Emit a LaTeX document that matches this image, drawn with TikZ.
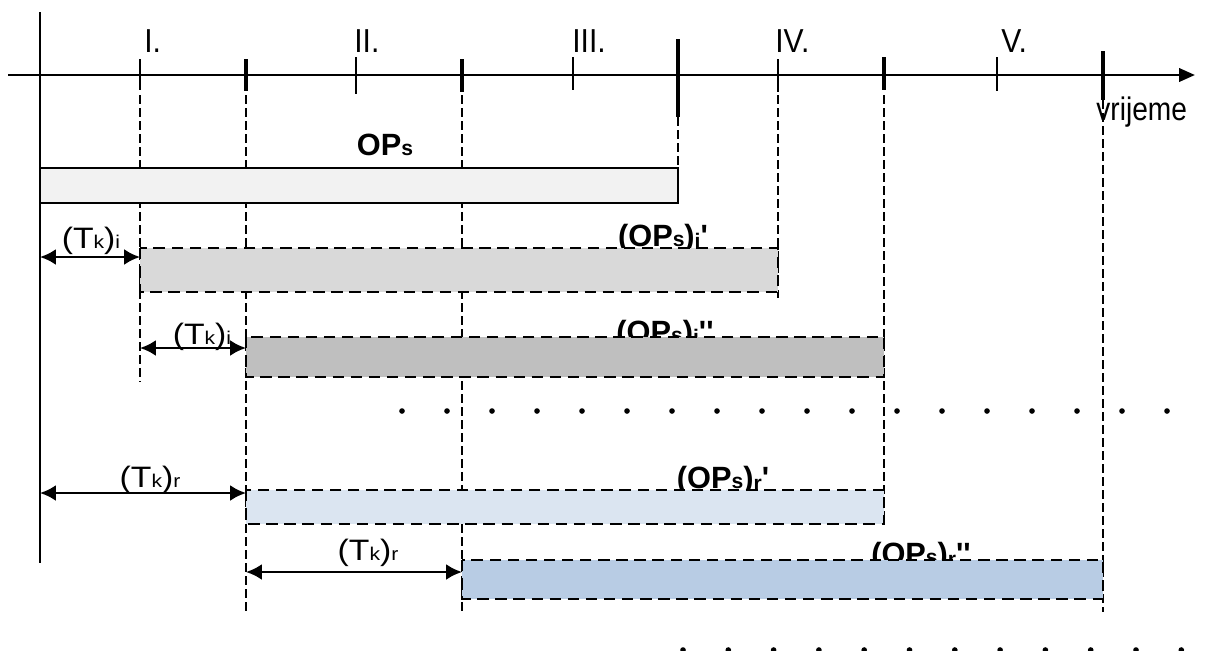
\documentclass[tikz,border=0pt]{standalone}
\usepackage{fontspec}
\setmainfont{Liberation Sans}
\newfontfamily\arial{Liberation Sans}
\usetikzlibrary{arrows.meta}
\definecolor{barS}{HTML}{F2F2F2}
\definecolor{barIa}{HTML}{D9D9D9}
\definecolor{barIb}{HTML}{BFBFBF}
\definecolor{barRa}{HTML}{DBE5F1}
\definecolor{barRb}{HTML}{B8CCE4}
\tikzset{
    timeaxis/.style = {line width=1.6pt,-{Triangle[length=9pt,width=7.5pt]}},
    tickthin/.style = {line width=0.8pt},
    tickmid/.style = {line width=1.8pt},
    tickbig/.style = {line width=2.5pt},
    guide/.style = {line width=0.8pt,dash pattern=on 5pt off 2.4pt},
    opbar/.style = {draw=black,line width=1.3pt},
    kbar/.style = {draw=black,line width=1.6pt,dash pattern=on 6.5pt off 3.8pt},
    tkarrow/.style = {{Latex[length=9pt,width=9pt]}-{Latex[length=9pt,width=9pt]},line width=1.4pt},
    roman/.style = {font=\arial\fontsize{18}{18}\selectfont,anchor=base west,inner sep=0pt},
    oplabel/.style = {font=\arial\bfseries\fontsize{17.5}{17.5}\selectfont,anchor=base,inner sep=0pt},
    tklabel/.style = {font=\arial\fontsize{16}{16}\selectfont,anchor=base,inner sep=0pt},
    dotmark/.style = {circle,fill=black,inner sep=0pt,minimum size=3.2pt}
}
\newcommand{\sfx}[1]{{\fontsize{12}{12}\selectfont #1}}
\newcommand{\sfxl}[1]{\raisebox{-1.5pt}{\fontsize{12}{12}\selectfont #1}}
\newcommand{\tall}[1]{\scalebox{0.95}[1.05]{#1}}
\newcommand{\tkx}[1]{\scalebox{1.2}[1.05]{(T{\fontsize{10}{10}\selectfont k})\fontsize{10}{10}\selectfont #1}}

\begin{document}
\begin{tikzpicture}[x=0.02cm,y=-0.02cm]
\useasboundingbox (0,0) rectangle (1211,650);
\clip (0,0) rectangle (1211,650);
% time axis
\coordinate (start) at (8,75);
\coordinate (end) at (1195,75);
\draw[timeaxis] (start) -- (end);
\draw[line width=0.9pt] (40,12) -- (40,563);
\foreach \x/\ya/\yb/\st in {140/59/90/tickthin, 246/59/91/tickmid, 356/57/94/tickthin,
    462/59/92/tickmid, 573/57/90/tickthin, 678/39/117/tickbig, 778/59/92/tickthin,
    884/57/90/tickmid, 997/57/91/tickthin, 1103/51/100/tickmid}
  \draw[\st] (\x,\ya) -- (\x,\yb);
\node[roman] (r1) at (144,52) {\tall{I.}};
\node[roman] (r2) at (354,52) {\tall{II.}};
\node[roman] (r3) at (572,52) {\tall{III.}};
\node[roman] (r4) at (775,52) {\tall{IV.}};
\node[roman] (r5) at (1001,52) {\tall{V.}};
\node[roman,font=\arial\fontsize{16}{16}\selectfont] (time) at (1096,120) {\scalebox{1}[1.16]{vrijeme}};
%
\draw[guide] (140,95) -- (140,382);
\draw[guide] (246,95) -- (246,612);
\draw[guide] (462,95) -- (462,612);
\draw[guide] (678,117) -- (678,168);
\draw[guide] (778,95) -- (778,298);
\draw[guide] (884,95) -- (884,525);
\draw[guide] (1103,100) -- (1103,612);
%
\node[oplabel] (ops) at (385,155) {OP\sfx{s}};
\node[oplabel] (opi1) at (663,246) {(OP\sfx{s})\sfxl{i}'};
\node[oplabel] (opi2) at (665,342) {(OP\sfx{s})\sfxl{i}''};
\node[oplabel] (opr1) at (723,488) {(OP\sfx{s})\sfxl{r}'};
\node[oplabel] (opr2) at (921,564) {(OP\sfx{s})\sfxl{r}''};
%
\draw[opbar,fill=barS] (40,168) rectangle (678,203);
\draw[kbar,fill=barIa] (140,248) rectangle (778,292);
\draw[kbar,fill=barIb] (246,337) rectangle (884,377);
\draw[kbar,fill=barRa] (246,490) rectangle (884,524);
\draw[kbar,fill=barRb] (462,560) rectangle (1103,599);
%
\coordinate (ia) at (40,257);  \coordinate (ib) at (140,257);
\coordinate (ic) at (140,348); \coordinate (id) at (246,348);
\coordinate (ra) at (40,493);  \coordinate (rb) at (246,493);
\coordinate (rc) at (246,572); \coordinate (rd) at (462,572);
\draw[tkarrow] (ia) -- (ib);
\draw[tkarrow] (ic) -- (id);
\draw[tkarrow] (ra) -- (rb);
\draw[tkarrow] (rc) -- (rd);
\node[tklabel] (tki1) at (91,248) {\tkx{i}};
\node[tklabel] (tki2) at (202,344) {\tkx{i}};
\node[tklabel] (tkr1) at (150,487) {\tkx{r}};
\node[tklabel] (tkr2) at (368,560) {\tkx{r}};
%
\foreach \k in {0,...,17}
  \node[dotmark] (dm\k) at ({402+45*\k},411) {};
\foreach \k in {0,...,11}
  \node[dotmark] (dn\k) at ({683+45.3*\k},650) {};
\end{tikzpicture}
\end{document}
